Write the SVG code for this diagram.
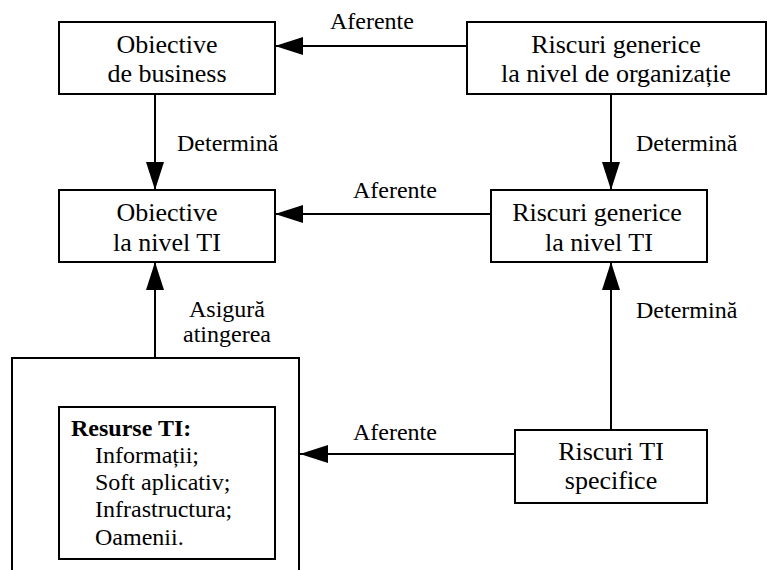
<svg xmlns="http://www.w3.org/2000/svg" width="768" height="570" viewBox="0 0 768 570">
<style>
.box{fill:#fff;stroke:#000;stroke-width:2}
.t{font-family:'Liberation Serif','Times New Roman',serif;font-size:26px;fill:#000;text-anchor:middle}
.l{font-family:'Liberation Serif','Times New Roman',serif;font-size:24px;fill:#000}
.r{font-family:'Liberation Serif','Times New Roman',serif;font-size:24px;fill:#000}
.c{stroke:#000;stroke-width:2;fill:none;marker-end:url(#ah)}
</style>
<defs>
<marker id="ah" viewBox="0 0 28 18" refX="28" refY="9" markerWidth="28" markerHeight="18" markerUnits="userSpaceOnUse" orient="auto">
<path d="M0,0 L28,9 L0,18 Z" fill="#000"/>
</marker>
</defs>
<rect width="768" height="570" fill="#fff"/>
<g id="connectors" font-family="Liberation Serif, Times New Roman, serif">
<line class="c" x1="467" y1="46" x2="275" y2="46"/>
<line class="c" x1="155" y1="94" x2="155" y2="190"/>
<line class="c" x1="611" y1="94" x2="611" y2="190"/>
<line class="c" x1="491" y1="214" x2="275" y2="214"/>
<line class="c" x1="155" y1="358" x2="155" y2="262"/>
<line class="c" x1="611" y1="430" x2="611" y2="262"/>
<line class="c" x1="515" y1="454" x2="300" y2="454"/>
<text class="l" x="330" y="29">Aferente</text>
<text class="l" x="177" y="151">Determină</text>
<text class="l" x="636" y="151">Determină</text>
<text class="l" x="353" y="198">Aferente</text>
<text class="l" x="636" y="318">Determină</text>
<text class="l" x="227" y="317" text-anchor="middle">Asigură</text>
<text class="l" x="227" y="342" text-anchor="middle">atingerea</text>
<text class="l" x="353" y="440">Aferente</text>
</g>
<g id="obiective-business">
<rect class="box" x="59" y="22" width="216" height="72"/>
<text class="t" x="167" y="53">Obiective</text>
<text class="t" x="167" y="82">de business</text>
</g>
<g id="riscuri-organizatie">
<rect class="box" x="467" y="22" width="299" height="72"/>
<text class="t" x="616" y="53">Riscuri generice</text>
<text class="t" x="616" y="82">la nivel de organizație</text>
</g>
<g id="obiective-ti">
<rect class="box" x="59" y="190" width="216" height="72"/>
<text class="t" x="167" y="221">Obiective</text>
<text class="t" x="167" y="251">la nivel TI</text>
</g>
<g id="riscuri-ti-generice">
<rect class="box" x="491" y="190" width="216" height="72"/>
<text class="t" x="597" y="221">Riscuri generice</text>
<text class="t" x="599" y="251">la nivel TI</text>
</g>
<g id="riscuri-ti-specifice">
<rect class="box" x="515" y="430" width="192" height="73"/>
<text class="t" x="611" y="460">Riscuri TI</text>
<text class="t" x="611" y="489">specifice</text>
</g>
<g id="resurse-container">
<rect class="box" x="12" y="358" width="287" height="230"/>
</g>
<g id="resurse-ti">
<rect class="box" x="59" y="407" width="216" height="152"/>
<text class="r" x="71" y="436" font-weight="bold">Resurse TI:</text>
<text class="r" x="95" y="463">Informații;</text>
<text class="r" x="95" y="490">Soft aplicativ;</text>
<text class="r" x="95" y="517">Infrastructura;</text>
<text class="r" x="95" y="545">Oamenii.</text>
</g>
</svg>
